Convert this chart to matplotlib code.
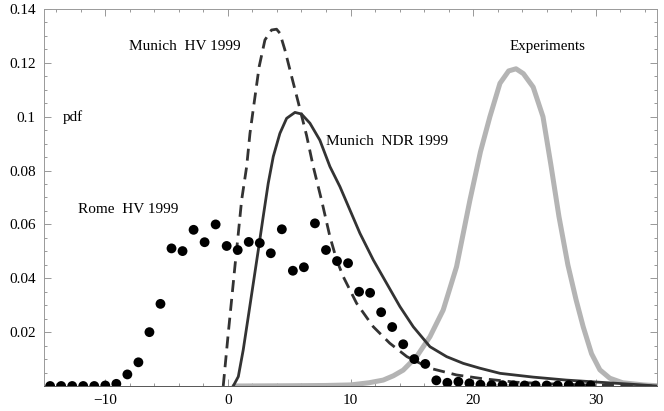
import numpy as np
import matplotlib
matplotlib.use('Agg')
import matplotlib.pyplot as plt

# Rome HV 1999 (dots)
rome_x = [-14.5, -13.6, -12.7, -11.8, -10.9, -10.0, -9.1, -8.2, -7.3, -6.4,
          -5.5, -4.6, -3.7, -2.8, -1.9, -1.0, -0.1, 0.8, 1.7, 2.6,
          3.5, 4.4, 5.3, 6.2, 7.1, 8.0, 8.9, 9.8, 10.7, 11.6,
          12.5, 13.4, 14.3, 15.2, 16.1, 17.0, 17.9, 18.8, 19.7, 20.6,
          21.5, 22.4, 23.3, 24.2, 25.1, 26.0, 26.9, 27.8, 28.7, 29.6]
rome_y = [0.0, 0.0, 0.0, 0.0, 0.0, 0.0002, 0.0008, 0.0043, 0.0088, 0.0200,
          0.0305, 0.0511, 0.0501, 0.0580, 0.0534, 0.0600, 0.0520, 0.0505, 0.0535, 0.0531,
          0.0493, 0.0582, 0.0428, 0.0441, 0.0604, 0.0505, 0.0464, 0.0456, 0.0350, 0.0346,
          0.0274, 0.0219, 0.0155, 0.0100, 0.0082, 0.0021, 0.0012, 0.0016, 0.0010, 0.0005,
          0.0003, 0.0003, 0.0002, 0.0002, 0.0002, 0.0002, 0.0002, 0.0003, 0.0003, 0.0002]

# Munich HV 1999 (dashed)
hv_x = [-0.38, -0.23, 0.03, 0.3, 0.57, 0.85, 1.12, 1.53, 1.8, 2.06, 2.55, 3.02,
        3.56, 3.97, 4.24, 4.65, 5.2, 5.73, 6.42, 6.96, 7.64, 8.32, 8.87, 9.41,
        10.5, 11.86, 13.2, 14.6, 16.48, 18.65, 20.8, 23.5, 26.2, 29.0, 32.0, 35.0]
hv_y = [0.0, 0.0072, 0.0196, 0.0319, 0.0443, 0.0567, 0.069, 0.0815, 0.0938, 0.1025, 0.1186, 0.1285,
        0.1322, 0.1325, 0.131, 0.1248, 0.1149, 0.1055, 0.0930, 0.0815, 0.069, 0.0555, 0.0468, 0.0406,
        0.0307, 0.022, 0.0159, 0.0109, 0.0066, 0.0041, 0.0027, 0.0014, 0.0008, 0.0004, 0.0002, 0.0]

# Munich NDR 1999 (solid)
ndr_x = [0.44, 0.85, 1.25, 1.66, 2.07, 2.48, 2.88, 3.29, 3.7, 4.24, 4.79, 5.47,
         6.0, 6.69, 7.5, 8.32, 9.14, 9.95, 10.77, 11.86, 12.95, 14.03, 15.12,
         16.48, 17.84, 19.2, 20.56, 22.2, 24.9, 27.6, 30.3, 33.1, 35.0]
ndr_y = [0.0, 0.0035, 0.0134, 0.0257, 0.0381, 0.0505, 0.0629, 0.0753, 0.0852, 0.0938, 0.0994, 0.1016,
         0.101, 0.0976, 0.0913, 0.0815, 0.074, 0.0654, 0.0567, 0.0468, 0.0381, 0.0295, 0.022,
         0.0146, 0.0109, 0.0084, 0.0066, 0.0047, 0.0033, 0.0022, 0.0014, 0.0006, 0.0]

# Experiments (gray)
exp_x = [0.5, 5.0, 8.0, 10.0, 11.5, 12.67, 13.5, 14.3, 15.39, 16.48, 17.56, 18.65,
         19.74, 20.6, 21.37, 22.19, 22.9, 23.5, 24.1, 24.9, 25.7, 26.35, 27.0,
         27.73, 28.4, 28.98, 29.66, 30.34, 31.15, 32.2, 33.9, 35.0]
exp_y = [0.0, 0.0001, 0.0002, 0.0004, 0.0012, 0.0022, 0.0038, 0.0059, 0.0109, 0.0183, 0.0282, 0.0443,
         0.069, 0.087, 0.100, 0.1124, 0.117, 0.1178, 0.116, 0.111, 0.100, 0.082, 0.063,
         0.045, 0.032, 0.022, 0.012, 0.006, 0.0029, 0.0012, 0.0004, 0.0001]

y_ticks = [0.02, 0.04, 0.06, 0.08, 0.1, 0.12, 0.14]
y_labels = ['0.02', '0.04', '0.06', '0.08', '0.1', '0.12', '0.14']
x_ticks = [-10, 0, 10, 20, 30]

plt.rcParams['font.family'] = ['Liberation Serif', 'DejaVu Serif']

fig = plt.figure(figsize=(6.64, 4.11), dpi=100)
ax = fig.add_axes([44/664, 25/411, 613/664, 377/411])

ax.plot(exp_x, exp_y, color='#b4b4b4', lw=3.6, solid_capstyle='round', zorder=2)
ax.plot(hv_x, hv_y, color='#333333', lw=2.0, dashes=(4.3, 2.5), zorder=3)
ax.plot(ndr_x, ndr_y, color='#333333', lw=2.0, zorder=3)
ax.scatter(rome_x, rome_y, s=50, color='black', edgecolors='none', zorder=4)

ax.set_xlim(-15, 35)
ax.set_ylim(0, 0.14)
ax.set_xticks(x_ticks)
ax.set_xticklabels(['\u221210', '0', '10', '20', '30'])
ax.set_yticks(y_ticks)
ax.set_yticklabels(y_labels)
ax.set_xticks(np.arange(-14, 35, 2), minor=True)
ax.set_yticks(np.arange(0.005, 0.14, 0.005), minor=True)

ax.tick_params(which='both', direction='in', top=True, right=True,
               color='#888888', width=0.6, labelsize=11, colors='black')
ax.tick_params(which='major', length=5, pad=6)
ax.tick_params(which='minor', length=2.5)
for sp in ax.spines.values():
    sp.set_color('#999999')
    sp.set_linewidth(0.7)
ax.spines['bottom'].set_color('#555555')

ax.text(-8.07, 0.1259, 'Munich  HV 1999', fontsize=11, va='center', ha='left')
ax.text(-13.45, 0.0999, 'pdf', fontsize=11, va='center', ha='left')
ax.text(-12.2, 0.0654, 'Rome  HV 1999', fontsize=11, va='center', ha='left')
ax.text(8.0, 0.0907, 'Munich  NDR 1999', fontsize=11, va='center', ha='left')
ax.text(26.1, 0.1259, 'Experiments', fontsize=10.8, va='center', ha='center')

fig.savefig('out.png', dpi=100)
